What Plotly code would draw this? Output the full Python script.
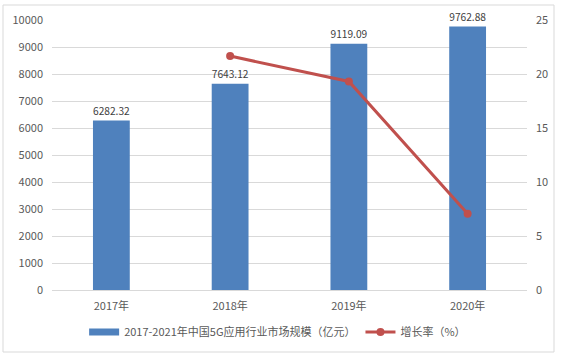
import plotly.graph_objects as go

years = ["2017年", "2018年", "2019年", "2020年"]
market = [6282.32, 7643.12, 9119.09, 9762.88]
growth_years = ["2018年", "2019年", "2020年"]
growth = [21.66, 19.31, 7.06]

bar_name = "2017-2021年中国5G应用行业市场规模（亿元）"
line_name = "增长率（%）"

FONT = "Noto Sans CJK SC"
W, H = 565, 357
L, R, T, B = 52, 38, 20, 67
pw, ph = W - L - R, H - T - B

fig = go.Figure()
fig.add_trace(go.Bar(
    x=years, y=market, name=bar_name, showlegend=False,
    marker=dict(color="#4F81BD", line=dict(width=0)),
    width=0.31,
    text=[f"{v:.2f}" for v in market], textposition="outside",
    textfont=dict(size=11, color="#404040", family=FONT),
    cliponaxis=False, hoverinfo="skip",
))
# legend proxy for the bar series (wide flat rectangle)
fig.add_trace(go.Scatter(
    x=[years[0]], y=[None], name=bar_name, mode="lines",
    line=dict(color="#4F81BD", width=7), hoverinfo="skip",
))
fig.add_trace(go.Scatter(
    x=growth_years, y=growth, name=line_name, yaxis="y2",
    mode="lines+markers",
    line=dict(color="#C0504D", width=3),
    marker=dict(color="#C0504D", size=8), hoverinfo="skip",
))

def px2x(px):
    return (px - L) / pw

def px2y(py):
    return (H - B - py) / ph

fig.add_shape(type="rect", xref="paper", yref="paper",
              x0=px2x(3), x1=px2x(554), y0=px2y(352), y1=px2y(5),
              line=dict(color="#D9D9D9", width=1), fillcolor="rgba(0,0,0,0)", layer="below")

fig.update_layout(
    width=W, height=H,
    margin=dict(l=L, r=R, t=T, b=B, pad=0, autoexpand=False),
    paper_bgcolor="white", plot_bgcolor="white",
    font=dict(family=FONT, size=11, color="#595959"),
    showlegend=True,
    legend=dict(orientation="h", x=0.475, xanchor="center", yref="container",
                y=1 - 332 / H, yanchor="middle",
                font=dict(size=11, color="#595959", family=FONT), bgcolor="rgba(0,0,0,0)",
                itemwidth=30, tracegroupgap=0),
    xaxis=dict(showgrid=False, showline=True, linecolor="#D9D9D9", linewidth=1,
               ticks="", tickfont=dict(size=11, color="#595959"), ticklabelstandoff=6,
               automargin=False),
    yaxis=dict(range=[0, 10000], dtick=1000, tickformat="d", showgrid=True,
               gridcolor="#D9D9D9", gridwidth=1, zeroline=False, showline=False, ticks="",
               tickfont=dict(size=11, color="#595959"), ticklabelstandoff=8,
               automargin=False),
    yaxis2=dict(range=[0, 25], dtick=5, overlaying="y", side="right", showgrid=False,
                zeroline=False, showline=False, ticks="",
                tickfont=dict(size=11, color="#595959"), ticklabelstandoff=8,
                automargin=False),
)

fig.write_html("out.html", config={"displayModeBar": False},
               post_script="document.body.style.margin='0';document.body.style.padding='0';")
